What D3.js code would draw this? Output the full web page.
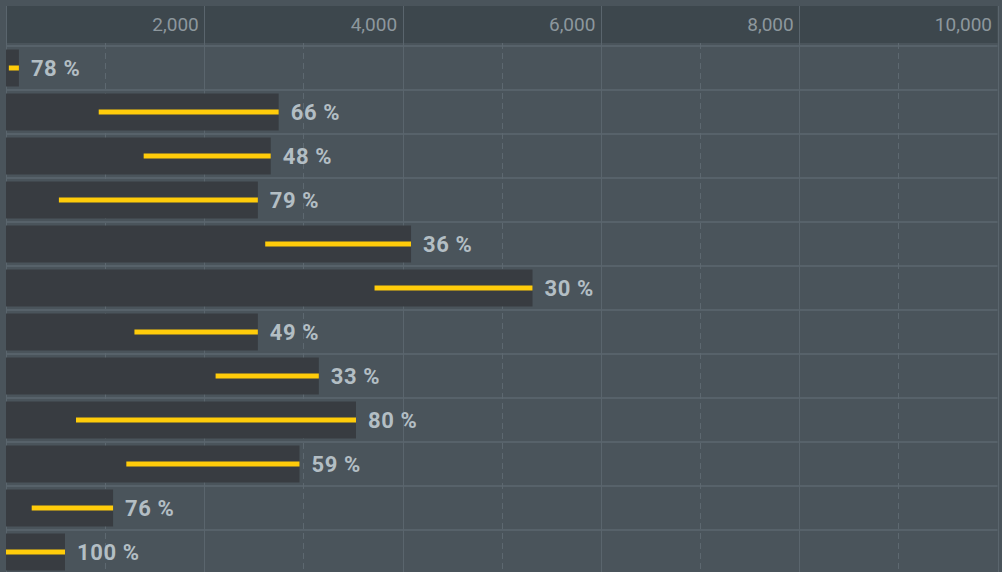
<!DOCTYPE html>
<html>
<head>
<meta charset="utf-8">
<script src="https://cdn.jsdelivr.net/npm/d3@7"></script>
<style>
  html, body { margin: 0; padding: 0; background: #4a545b; }
  svg { display: block; }
</style>
</head>
<body>
<svg id="chart" width="1002" height="572"></svg>
<script>
// Row keys (one bar per row, top to bottom)
const categories = ["r1", "r2", "r3", "r4", "r5", "r6", "r7", "r8", "r9", "r10", "r11", "r12"];
// Total value per row (dark bar length)
const totals = [130, 2750, 2670, 2540, 4085, 5310, 2540, 3155, 3530, 2960, 1080, 595];
// Share of each total (yellow segment, measured back from the bar end)
const shares = [78, 66, 48, 79, 36, 30, 49, 33, 80, 59, 76, 100];
// Axis ticks
const majorTicks = [2000, 4000, 6000, 8000, 10000];
const minorTicks = [1000, 3000, 5000, 7000, 9000];

const W = 1002, H = 572;
const svg = d3.select("#chart");

const x = d3.scaleLinear().domain([0, 10000]).range([6, 997.5]);
const y = d3.scaleBand().domain(categories).range([46, 574]).paddingInner(0.16).paddingOuter(0.08);

// header strip
svg.append("rect").attr("x", 6).attr("y", 6).attr("width", 991.5).attr("height", 37)
  .attr("fill", "#3d474d");

// horizontal row separators
const rowEdges = d3.range(categories.length + 1).map(i => 46 + i * (528 / categories.length));
svg.append("g").selectAll("line").data(rowEdges).join("line")
  .attr("x1", 6).attr("x2", 997.5)
  .attr("y1", d => d).attr("y2", d => d)
  .attr("stroke", "#57626a").attr("stroke-width", 2);

// minor (dashed) vertical grid
svg.append("g").selectAll("line").data(minorTicks).join("line")
  .attr("x1", d => Math.round(x(d)) + 0.5).attr("x2", d => Math.round(x(d)) + 0.5)
  .attr("y1", 43).attr("y2", H)
  .attr("stroke", "#5d6870").attr("stroke-width", 1).attr("stroke-dasharray", "6,4");

// major (solid) vertical grid, including zero line, through the header
svg.append("g").selectAll("line").data([0].concat(majorTicks)).join("line")
  .attr("x1", d => Math.round(x(d)) + 0.5).attr("x2", d => Math.round(x(d)) + 0.5)
  .attr("y1", 6).attr("y2", H)
  .attr("stroke", "#5a656d").attr("stroke-width", 1);

// top axis labels
const axis = d3.axisTop(x).tickValues(majorTicks).tickFormat(d3.format(",")).tickSize(0).tickPadding(0);
const gAxis = svg.append("g").attr("transform", "translate(0,24)").call(axis);
gAxis.select(".domain").remove();
gAxis.selectAll("text")
  .attr("x", -6).attr("dy", "0.36em").attr("y", 0)
  .attr("text-anchor", "end")
  .attr("fill", "#8d979d")
  .style("font-family", "Roboto, sans-serif")
  .style("font-size", "19px");

const rows = categories.map((c, i) => ({ key: c, total: totals[i], share: shares[i] }));

// dark bars
svg.append("g").selectAll("rect").data(rows).join("rect")
  .attr("x", x(0))
  .attr("y", d => y(d.key))
  .attr("width", d => x(d.total) - x(0))
  .attr("height", y.bandwidth())
  .attr("fill", "#383c41");

// yellow share segment, ending at the bar end
svg.append("g").selectAll("rect").data(rows).join("rect")
  .attr("x", d => x(d.total * (1 - d.share / 100)))
  .attr("y", d => y(d.key) + y.bandwidth() / 2 - 2.5)
  .attr("width", d => x(d.total) - x(d.total * (1 - d.share / 100)))
  .attr("height", 5)
  .attr("fill", "#ffcc0a");

// share labels
svg.append("g").selectAll("text").data(rows).join("text")
  .attr("x", d => x(d.total) + 12)
  .attr("y", d => y(d.key) + y.bandwidth() / 2)
  .attr("dy", "0.36em")
  .attr("fill", "#b3bec4")
  .style("font-family", "Roboto, sans-serif")
  .style("font-weight", "700")
  .style("font-size", "22px")
  .style("letter-spacing", "0.6px")
  .text(d => d.share + " %");
</script>
</body>
</html>
